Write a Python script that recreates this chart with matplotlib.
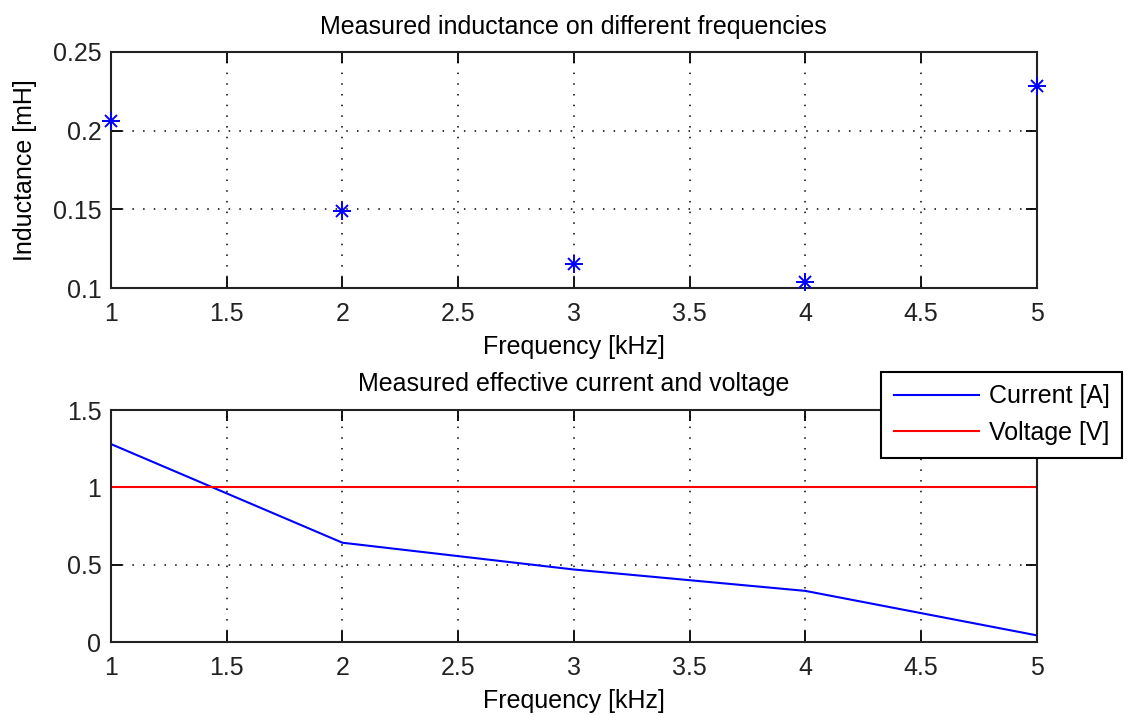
import matplotlib
matplotlib.use("Agg")
import matplotlib.pyplot as plt

freq = [1, 2, 3, 4, 5]
inductance = [0.2059, 0.1489, 0.1152, 0.1038, 0.2283]
current = [1.280, 0.643, 0.470, 0.332, 0.045]
voltage = [1, 1, 1, 1, 1]

xticks = [1, 1.5, 2, 2.5, 3, 3.5, 4, 4.5, 5]
xticklabels = ["1", "1.5", "2", "2.5", "3", "3.5", "4", "4.5", "5"]
yticks_top = [0.1, 0.15, 0.2, 0.25]
yticklabels_top = ["0.1", "0.15", "0.2", "0.25"]
yticks_bot = [0, 0.5, 1, 1.5]
yticklabels_bot = ["0", "0.5", "1", "1.5"]

plt.rcParams['font.family'] = ['Liberation Sans', 'DejaVu Sans']
FS = 18

fig = plt.figure(figsize=(11.29, 7.15), dpi=100)
W, H = 1129, 715
ax1 = fig.add_axes([111 / W, 1 - 288.3 / H, (1036.7 - 111) / W, (288.3 - 51.7) / H])
ax2 = fig.add_axes([111 / W, 1 - 642.3 / H, (1036.7 - 111) / W, (642.3 - 410) / H])

# MATLAB-style asterisk: '+' overlaid with 'x'
ax1.plot(freq, inductance, linestyle='none', marker='+', color='#0000ff',
         markersize=13, markeredgewidth=1.4, clip_on=False, zorder=5)
ax1.plot(freq, inductance, linestyle='none', marker='x', color='#0000ff',
         markersize=9, markeredgewidth=1.4, clip_on=False, zorder=5)
ax1.set_xlim(1, 5)
ax1.set_ylim(0.1, 0.25)
ax1.set_yticks(yticks_top)
ax1.set_yticklabels(yticklabels_top)
ax1.set_title("Measured inductance on different frequencies", fontsize=FS, pad=13)
ax1.set_xlabel("Frequency [kHz]", fontsize=FS, labelpad=6)
ax1.set_ylabel("Inductance [mH]", fontsize=FS, labelpad=11)

ax2.plot(freq, current, color='#0000ff', linewidth=1.5, label='Current [A]')
ax2.plot(freq, voltage, color='#ff0000', linewidth=1.5, label='Voltage [V]')
ax2.set_xlim(1, 5)
ax2.set_ylim(0, 1.5)
ax2.set_yticks(yticks_bot)
ax2.set_yticklabels(yticklabels_bot)
ax2.set_title("Measured effective current and voltage", fontsize=FS, pad=14)
ax2.set_xlabel("Frequency [kHz]", fontsize=FS, labelpad=6)

for ax in (ax1, ax2):
    ax.set_xticks(xticks)
    ax.set_xticklabels(xticklabels)
    ax.grid(True, linestyle=(0, (1, 6)), color='black', linewidth=1.1)
    ax.tick_params(direction='in', top=True, right=True, length=8, width=1.3,
                   labelsize=FS, colors='black')
    ax.tick_params(axis='x', pad=10, labelcolor='#222222')
    ax.tick_params(axis='y', pad=7, labelcolor='#222222')
    for s in ax.spines.values():
        s.set_linewidth(1.5)
        s.set_color('#222222')

leg = ax2.legend(loc='upper right', bbox_to_anchor=(1122 / W, 1 - 372 / H),
                 bbox_transform=fig.transFigure, fontsize=FS, frameon=True,
                 fancybox=False, edgecolor='black', framealpha=1.0,
                 borderaxespad=0, handlelength=3.4, handletextpad=0.4,
                 labelspacing=0.5, borderpad=0.5)
leg.get_frame().set_linewidth(1.5)

fig.savefig("out.png", dpi=100)
